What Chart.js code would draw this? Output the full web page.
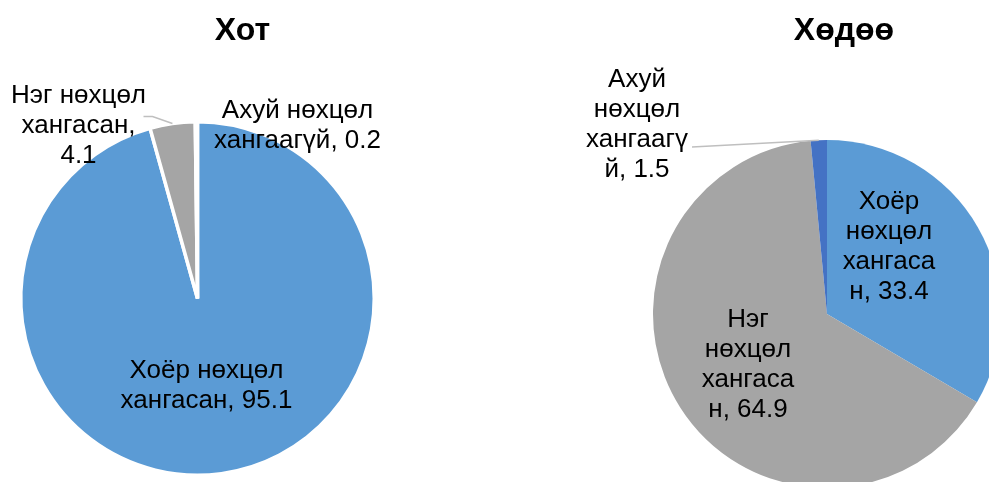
<!DOCTYPE html>
<html>
<head>
<meta charset="utf-8">
<script src="https://cdn.jsdelivr.net/npm/chart.js@4.4.0/dist/chart.umd.min.js"></script>
<style>
html, body { margin: 0; padding: 0; background: #fff; overflow: hidden; width: 989px; height: 482px; }
canvas { position: absolute; top: 0; }
#cityChart { left: 0; }
#ruralChart { left: 560px; }
</style>
</head>
<body>
<canvas id="cityChart" width="420" height="482"></canvas>
<canvas id="ruralChart" width="460" height="500"></canvas>
<script>
var categories = ['Хоёр нөхцөл хангасан', 'Нэг нөхцөл хангасан', 'Ахуй нөхцөл хангаагүй'];
var cityValues = [95.1, 4.1, 0.2];
var ruralValues = [33.4, 64.9, 1.5];
var chartTitles = ['Хот', 'Хөдөө'];
var sliceColors = ['#5B9BD5', '#A5A5A5', '#4472C4'];

var labelFont = '26px "Liberation Sans", Arial, sans-serif';
var titleFont = 'bold 32px "Liberation Sans", Arial, sans-serif';
var lineHeight = 30;

// label placement relative to the pie centre (dx = block centre, dy = first baseline)
var cityLabelLayout = [
    { dx: 9, dy: 79, wrap: 200 },
    { dx: -119, dy: -196, wrap: 150, leader: [[-54, -182], [-45, -182]] },
    { dx: 100, dy: -181, wrap: 200 }
];
var ruralLabelLayout = [
    { dx: 62, dy: -105, wrap: 100 },
    { dx: -79, dy: 13, wrap: 100 },
    { dx: -190, dy: -227, wrap: 115, leader: [[-135, -167]] }
];

function wrapText(ctx, text, maxWidth) {
    var words = text.split(' ');
    var lines = [];
    var line = '';
    words.forEach(function (word) {
        var test = line ? line + ' ' + word : word;
        if (ctx.measureText(test).width <= maxWidth) {
            line = test;
            return;
        }
        if (line) {
            lines.push(line);
            line = '';
        }
        while (ctx.measureText(word).width > maxWidth) {
            var i = word.length;
            while (i > 1 && ctx.measureText(word.slice(0, i)).width > maxWidth) i--;
            lines.push(word.slice(0, i));
            word = word.slice(i);
        }
        line = word;
    });
    if (line) lines.push(line);
    return lines;
}

var pieLabels = {
    id: 'pieLabels',
    afterDraw: function (chart, args, opts) {
        var ctx = chart.ctx;
        var meta = chart.getDatasetMeta(0);
        var values = chart.data.datasets[0].data;
        var cx = meta.data[0].x;
        var cy = meta.data[0].y;
        ctx.save();

        ctx.font = titleFont;
        ctx.fillStyle = '#000';
        ctx.textAlign = 'center';
        ctx.textBaseline = 'alphabetic';
        ctx.fillText(opts.title, cx + opts.titleOffset[0], cy + opts.titleOffset[1]);

        ctx.font = labelFont;
        meta.data.forEach(function (arc, i) {
            var lay = opts.layout[i];
            var text = chart.data.labels[i] + ', ' + values[i];
            var lines = wrapText(ctx, text, lay.wrap);
            lines.forEach(function (ln, j) {
                ctx.fillText(ln, cx + lay.dx, cy + lay.dy + j * lineHeight);
            });
            if (lay.leader) {
                var mid = (arc.startAngle + arc.endAngle) / 2;
                ctx.strokeStyle = '#BFBFBF';
                ctx.lineWidth = 1.5;
                ctx.beginPath();
                lay.leader.forEach(function (p, k) {
                    if (k === 0) ctx.moveTo(cx + p[0], cy + p[1]);
                    else ctx.lineTo(cx + p[0], cy + p[1]);
                });
                ctx.lineTo(cx + Math.cos(mid) * arc.outerRadius, cy + Math.sin(mid) * arc.outerRadius);
                ctx.stroke();
            }
        });
        ctx.restore();
    }
};

function makePie(id, values, border, padding, title, titleOffset, layout) {
    return new Chart(document.getElementById(id).getContext('2d'), {
        type: 'pie',
        data: {
            labels: categories,
            datasets: [{
                data: values,
                backgroundColor: sliceColors,
                borderColor: '#ffffff',
                borderWidth: border
            }]
        },
        options: {
            responsive: false,
            animation: false,
            layout: { padding: padding },
            plugins: {
                legend: { display: false },
                tooltip: { enabled: false },
                pieLabels: { title: title, titleOffset: titleOffset, layout: layout }
            }
        },
        plugins: [pieLabels]
    });
}

makePie('cityChart', cityValues, 3.5, { left: 19, right: 44, top: 120, bottom: 5 },
    chartTitles[0], [45, -259], cityLabelLayout);
makePie('ruralChart', ruralValues, 0, { left: 93, right: 19, top: 140, bottom: 12 },
    chartTitles[1], [17, -274], ruralLabelLayout);
</script>
</body>
</html>
